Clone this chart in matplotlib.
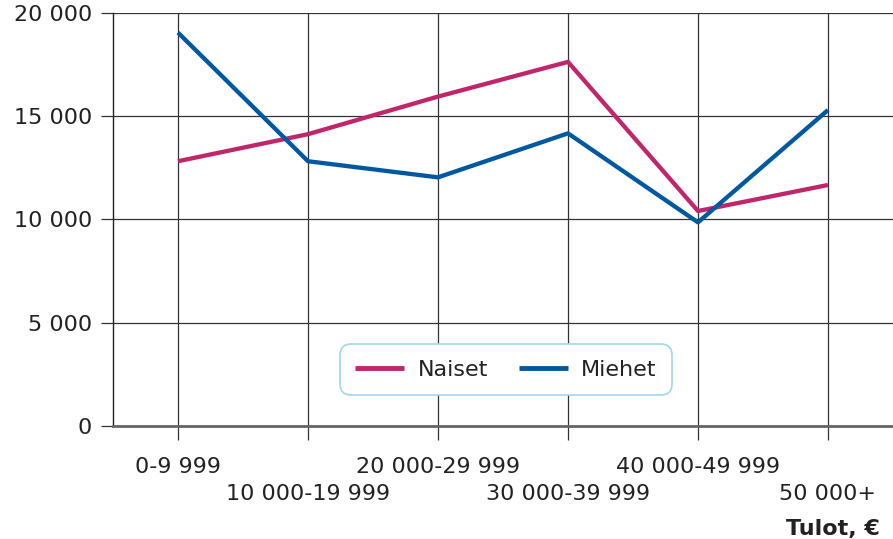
import matplotlib.pyplot as plt
from matplotlib.ticker import FuncFormatter

income_groups = ["0-9 999", "10 000-19 999", "20 000-29 999",
                 "30 000-39 999", "40 000-49 999", "50 000+"]
naiset = [12820, 14130, 15950, 17630, 10410, 11670]
miehet = [19050, 12820, 12040, 14170, 9860, 15300]
y_ticks = [0, 5000, 10000, 15000, 20000]

plt.rcParams["font.family"] = "DejaVu Sans"
plt.rcParams["font.size"] = 16

fig = plt.figure(figsize=(8.93, 5.39), dpi=100)
ax = fig.add_axes([0.1265, 0.2096, 0.8735, 0.7664])

x = range(len(income_groups))
ax.plot(x, naiset, color="#c1266b", lw=3.1, label="Naiset", solid_capstyle="butt", zorder=3)
ax.plot(x, miehet, color="#0058a0", lw=3.1, label="Miehet", solid_capstyle="butt", zorder=3)

ax.set_xlim(-0.5, 5.5)
ax.set_ylim(0, 20000)

ax.set_yticks(y_ticks)
ax.yaxis.set_major_formatter(FuncFormatter(lambda v, p: f"{int(v):,}".replace(",", " ")))
ax.set_xticks(list(x))
ax.set_xticklabels(income_groups)

ax.grid(True, color="#333333", lw=0.9)
ax.set_axisbelow(True)
ax.tick_params(axis="x", length=10, width=0.9, color="#333333", pad=12, labelcolor="#222222")
ax.tick_params(axis="y", length=9, width=0.9, color="#333333", pad=6, labelcolor="#222222")

# stagger the long labels on two rows
for i, tick in enumerate(ax.xaxis.get_major_ticks()):
    if i % 2:
        tick.set_pad(12 + 20)

for side in ("top", "right"):
    ax.spines[side].set_visible(False)
ax.spines["left"].set_color("#222222")
ax.spines["left"].set_linewidth(1)
ax.spines["bottom"].set_color("#666666")
ax.spines["bottom"].set_linewidth(2)

leg = ax.legend(loc="center", bbox_to_anchor=(0.504, 0.136), ncol=2, frameon=True,
                fancybox=True, handlelength=2.2, handletextpad=0.6, columnspacing=1.4,
                borderpad=0.7, fontsize=16, framealpha=1)
frame = leg.get_frame()
frame.set_boxstyle("round,pad=0,rounding_size=0.5")
frame.set_edgecolor("#9fd8ee")
frame.set_linewidth(1.2)
for line in leg.get_lines():
    line.set_linewidth(3.5)
for t in leg.get_texts():
    t.set_color("#222222")

fig.text(0.985, 0.008, "Tulot, €", ha="right", va="baseline", fontsize=16,
         fontweight="bold", color="#222222")

fig.savefig("out.png", dpi=100)
